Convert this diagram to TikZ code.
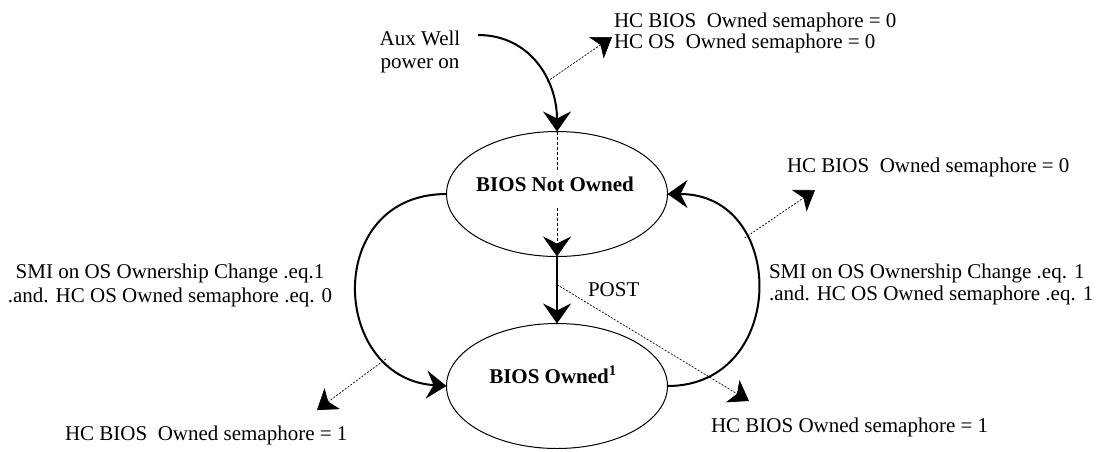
\documentclass[tikz,border=0pt]{standalone}
\usepackage{fontspec}
\setmainfont{Liberation Serif}
\usetikzlibrary{arrows.meta,shapes.geometric}
\begin{document}
\begin{tikzpicture}[x=1pt,y=-1pt,
  every node/.style={font=\fontsize{21}{23}\selectfont, inner sep=0pt, outer sep=0pt},
  state/.style={draw, ellipse, line width=1pt, minimum width=221pt, minimum height=125pt},
  bold/.style={font=\bfseries\fontsize{21}{23}\selectfont, anchor=base},
  bigtip/.style={-{Stealth[length=20pt,width=28pt,inset=7pt]}},
  trans/.style={line width=2pt, bigtip},
  post/.style={line width=1.2pt, bigtip},
  thindash/.style={dash pattern=on 3pt off 2pt, line width=0.7pt},
  note/.style={dash pattern=on 2pt off 1.5pt, line width=0.7pt, -{Stealth[length=19pt,width=26pt,inset=5pt]}},
  lbl/.style={anchor=base west},
  cl/.style={anchor=base}]
\useasboundingbox (0,0) rectangle (1097,451);

% states
\node[state] (n1) at (557,194) {};
\node[state] (n2) at (557,386) {};
\node[bold] (t1) at (555,191) {BIOS Not Owned};
\node[bold] (t2) at (553,383) {BIOS Owned\textsuperscript{1}};

% power on
\node[cl] (aux1) at (420,45) {Aux Well};
\node[cl] (aux2) at (420,68) {power on};
\coordinate (auxs) at (478,35);
\draw[trans] (auxs) .. controls (530,35) and (557,80) .. (n1.north) coordinate[pos=0.65] (b0);
\coordinate (e0) at (612,37);
\draw[note] (b0) -- (e0);
\node[lbl] (h1) at (614,27) {HC BIOS\ \ Owned semaphore = 0};
\node[lbl] (h2) at (614,48) {HC OS\ \ Owned semaphore = 0};

% dashed inside n1
\coordinate (d1) at (557,170);
\coordinate (d2) at (557,208);
\draw[thindash] (n1.north) -- (d1);
\draw[thindash, bigtip] (d2) -- (n1.south);

% POST
\draw[post] (n1.south) -- (n2.north) coordinate[pos=0.42] (b1);
\node[lbl] (postl) at (588,296) {POST};
\coordinate (e1) at (749,401);
\draw[note] (b1) -- (e1);
\node[lbl] (h5) at (711,432) {HC BIOS Owned semaphore = 1};

% left transition
\draw[trans] (n1.west) .. controls (323,194) and (330,378) .. (n2.west) coordinate[pos=0.78] (b2);
\coordinate (e2) at (317,410);
\draw[note] (b2) -- (e2);
\node[cl] (l1) at (170,278) {SMI on OS Ownership Change .eq.1};
\node[cl] (l2) at (170,302) {.and. HC OS Owned semaphore .eq. 0};
\node[lbl] (h4) at (65,440) {HC BIOS\ \ Owned semaphore = 1};

% right transition
\draw[trans] (n2.east) .. controls (788,386) and (788,194) .. (n1.east) coordinate[pos=0.69] (b3);
\coordinate (e3) at (815,190);
\draw[note] (b3) -- (e3);
\node[lbl] (h3) at (787,172) {HC BIOS\ \ Owned semaphore = 0};
\node[lbl] (r1) at (769,278) {SMI on OS Ownership Change .eq. 1};
\node[lbl] (r2) at (769,300) {.and. HC OS Owned semaphore .eq. 1};
\end{tikzpicture}
\end{document}
